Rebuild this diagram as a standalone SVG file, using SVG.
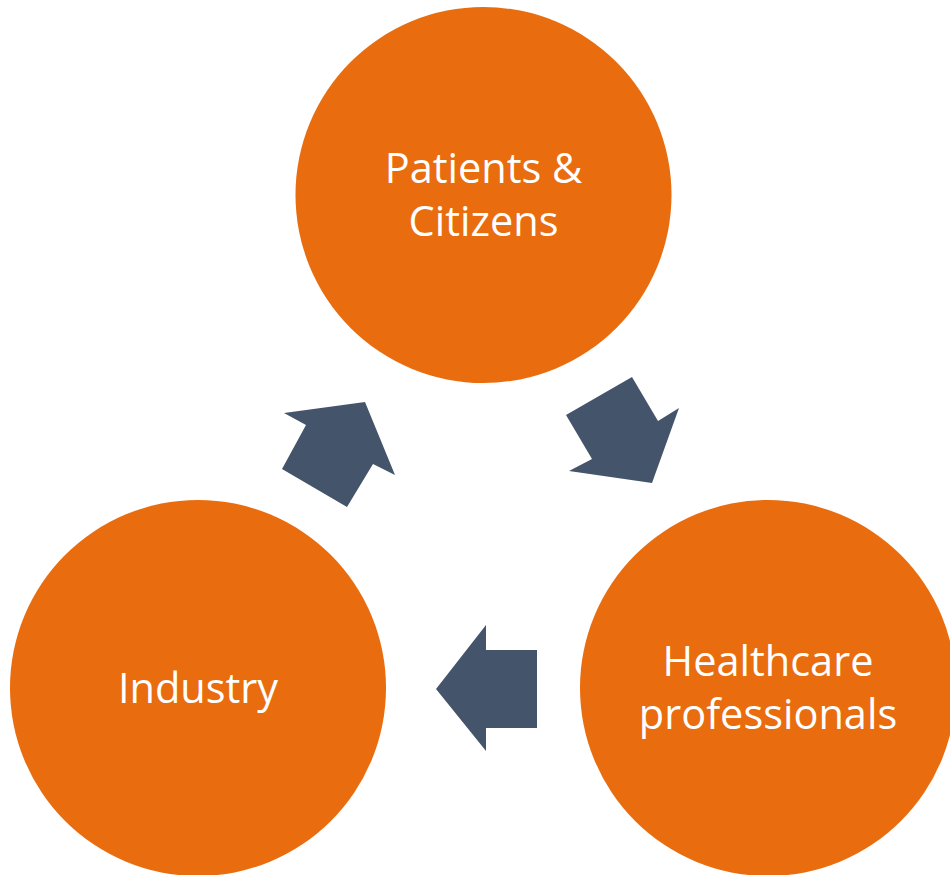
<svg xmlns="http://www.w3.org/2000/svg" width="950" height="875" viewBox="0 0 950 875">
<style>
.node{fill:#E96C0E}
.lbl{fill:#FFFFFF;font-family:"Open Sans","Liberation Sans",sans-serif;font-size:41.5px;text-anchor:middle}
.arr{fill:#44546A}
</style>
<rect width="950" height="875" fill="#FFFFFF"/>
<g id="patients">
<circle class="node" cx="483.5" cy="195" r="188"/>
<text class="lbl" x="483.5" y="183">Patients &amp;</text>
<text class="lbl" x="483.5" y="236">Citizens</text>
</g>
<g id="healthcare">
<circle class="node" cx="768" cy="688" r="188"/>
<text class="lbl" x="768" y="676">Healthcare</text>
<text class="lbl" x="768" y="729">professionals</text>
</g>
<g id="industry">
<circle class="node" cx="198" cy="688" r="188"/>
<text class="lbl" x="198" y="703">Industry</text>
</g>
<g id="connectors">
<polygon class="arr" points="365,402 395,475 373,464 347,507 282,469 306,425 284,413"/>
<polygon class="arr" points="632,377 658,421 679,408 652,483 569,471 592,459 566,415"/>
<polygon class="arr" points="436,689 486,625 486,650 537,650 537,728 486,728 486,751"/>
</g>
</svg>
